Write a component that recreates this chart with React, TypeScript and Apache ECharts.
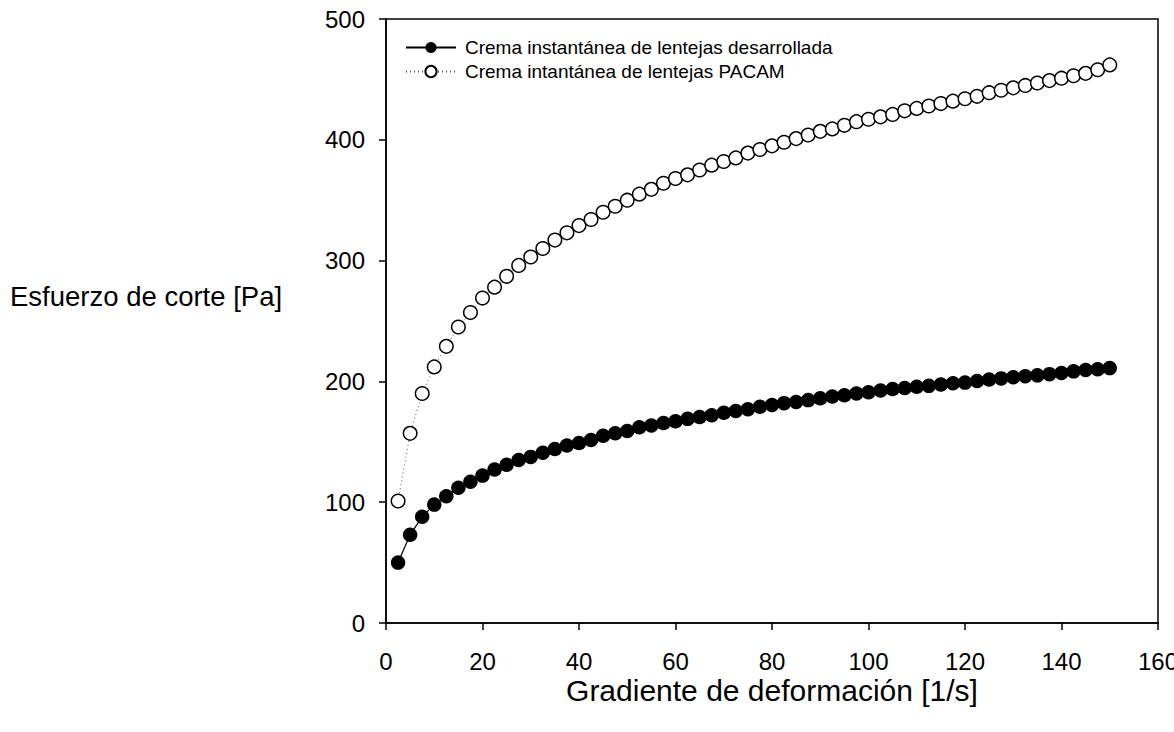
import React, { useEffect, useRef } from "react";
import * as echarts from "echarts";

const shearRate = [
  2.5, 5, 7.5, 10, 12.5, 15, 17.5, 20, 22.5, 25, 27.5, 30, 32.5, 35, 37.5, 40, 42.5, 45, 47.5, 50,
  52.5, 55, 57.5, 60, 62.5, 65, 67.5, 70, 72.5, 75, 77.5, 80, 82.5, 85, 87.5, 90, 92.5, 95, 97.5, 100,
  102.5, 105, 107.5, 110, 112.5, 115, 117.5, 120, 122.5, 125, 127.5, 130, 132.5, 135, 137.5, 140, 142.5, 145, 147.5, 150,
];

const stressDesarrollada = [
  50, 73, 88, 98, 105, 112, 117, 122, 127, 131, 135, 137.5, 141, 144, 147, 149, 151.5, 155, 157, 159,
  162, 163.5, 165.5, 167, 169, 170.5, 172, 174, 175.5, 177, 179, 180.5, 182, 183, 184.5, 186, 187.5, 188.5, 190, 191,
  192.5, 193.7, 194.5, 195.5, 196.3, 197.5, 198.5, 199, 200.3, 201.5, 202.5, 203.5, 204.3, 205, 206, 207, 208.3, 209.5, 210, 211,
];

const stressPacam = [
  101, 157, 190, 212, 229, 245, 257, 269, 278, 287, 296, 303, 310, 317, 323, 329, 334, 340, 345, 350,
  355, 359, 364, 368, 371, 375, 379, 382, 385, 389, 392, 395, 398, 401, 404, 407, 409, 412, 415, 417,
  419, 421, 424, 426, 428, 430, 432, 434, 436, 439, 441, 443, 445, 447, 449, 451, 453, 455, 458, 462,
];

const seriesNames = [
  "Crema instantánea de lentejas desarrollada",
  "Crema intantánea de lentejas PACAM",
];

const xTitle = "Gradiente de deformación [1/s]";
const yTitle = "Esfuerzo de corte [Pa]";

const FONT = "'Liberation Sans', Arial, sans-serif";

export default function App() {
  const ref = useRef<HTMLDivElement>(null);

  useEffect(() => {
    document.body.style.margin = "0";
    if (!ref.current) return;
    const chart = echarts.init(ref.current, null, { renderer: "svg" });
    chart.setOption({
      animation: false,
      backgroundColor: "#fff",
      textStyle: { fontFamily: FONT, color: "#000" },
      grid: {
        left: 386,
        right: 16,
        top: 19,
        bottom: 109,
        containLabel: false,
        outerBoundsMode: "none",
        show: true,
        borderColor: "#000",
        borderWidth: 1.5,
        backgroundColor: "transparent",
      },
      legend: {
        show: true,
        orient: "vertical",
        left: 400,
        top: 33,
        itemWidth: 50,
        itemHeight: 14,
        itemGap: 5,
        textStyle: { fontFamily: FONT, fontSize: 19, color: "#000", padding: [0, 0, 0, 4] },
        data: seriesNames,
      },
      xAxis: {
        type: "value",
        min: 0,
        max: 160,
        interval: 20,
        name: xTitle,
        nameLocation: "middle",
        nameGap: 52,
        nameMoveOverlap: false,
        nameTextStyle: { fontFamily: FONT, fontSize: 30, color: "#000" },
        axisLine: { show: true, lineStyle: { color: "#000", width: 1.5 } },
        axisTick: { show: true, inside: false, length: 7, lineStyle: { color: "#000", width: 1.5 } },
        axisLabel: { fontFamily: FONT, fontSize: 24, color: "#000", margin: 26, hideOverlap: false },
        splitLine: { show: false },
      },
      yAxis: {
        type: "value",
        min: 0,
        max: 500,
        interval: 100,
        axisLine: { show: true, lineStyle: { color: "#000", width: 1.5 } },
        axisTick: { show: true, inside: false, length: 7, lineStyle: { color: "#000", width: 1.5 } },
        axisLabel: { fontFamily: FONT, fontSize: 24, color: "#000", margin: 21 },
        splitLine: { show: false },
      },
      graphic: [
        {
          type: "text",
          left: 10,
          top: 282,
          style: { text: yTitle, font: `27.5px ${FONT}`, fill: "#000" },
        },
      ],
      series: [
        {
          name: seriesNames[1],
          type: "line",
          data: shearRate.map((x, i) => [x, stressPacam[i]]),
          symbol: "circle",
          symbolSize: 13.5,
          showSymbol: true,
          lineStyle: { color: "#555", width: 1, type: [1, 3] },
          itemStyle: { color: "#fff", borderColor: "#000", borderWidth: 1.5 },
          z: 3,
        },
        {
          name: seriesNames[0],
          type: "line",
          data: shearRate.map((x, i) => [x, stressDesarrollada[i]]),
          symbol: "circle",
          symbolSize: 14.5,
          showSymbol: true,
          lineStyle: { color: "#000", width: 1.2 },
          itemStyle: { color: "#000", borderColor: "#000", borderWidth: 0 },
          z: 4,
        },
      ],
    });
    return () => chart.dispose();
  }, []);

  return <div ref={ref} style={{ width: 1174, height: 732 }} />;
}
